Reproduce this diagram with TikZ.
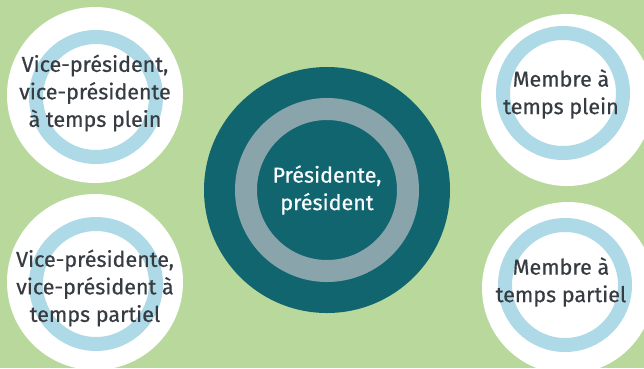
\documentclass[tikz,border=0pt]{standalone}
\usepackage{fontspec}
\setmainfont{Fira Sans}[FakeBold=0.5]
\usetikzlibrary{positioning}

\definecolor{leaf}{HTML}{B9D99C}
\definecolor{petrol}{HTML}{11656F}
\definecolor{slate}{HTML}{8AA4AC}
\definecolor{sky}{HTML}{AED9E6}
\definecolor{ink}{HTML}{373C42}

\begin{document}
\begin{tikzpicture}[x=1pt, y=-1pt,
    disc/.style={circle, fill=white, inner sep=0pt, minimum size=#1},
    ring/.style={draw=sky, line width=14pt},
    role/.style={align=center, text=ink, font=\fontsize{21.5}{27.5}\selectfont}]

    \useasboundingbox[fill=leaf] (0,0) rectangle (644,368);

    % the four seats around the chair
    \node[disc=176] (vpplein) at (95,95) {};
    \node[disc=176] (vppartiel) at (95,282) {};
    \node[disc=172] (mplein) at (567,100) {};
    \node[disc=172] (mpartiel) at (568,288) {};

    \draw[ring] ([shift={(1,2)}] vpplein.center) circle[radius=60];
    \draw[ring] ([shift={(1,2)}] vppartiel.center) circle[radius=60];
    \draw[ring] ([shift={(-4,-7)}] mplein.center) circle[radius=60];
    \draw[ring] ([shift={(-3,-3)}] mpartiel.center) circle[radius=60];

    \node[role] (vppleintxt) at (95,93) {Vice-président,\\vice-présidente\\à temps plein};
    \node[role] (vppartieltxt) at (95,288) {Vice-présidente,\\vice-président à\\temps partiel};
    \node[role] (mpleintxt) at (561,94) {Membre à\\temps plein};
    \node[role] (mpartieltxt) at (561,282) {Membre à\\temps partiel};

    % the chair in the middle
    \node[circle, fill=petrol, inner sep=0pt, minimum size=246] (chair) at (327,190) {};
    \draw[draw=slate, line width=22pt] (chair.center) circle[radius=81];
    \node[role, text=white!92!sky] (chairtxt) at (chair.center) {Présidente,\\président};

\end{tikzpicture}
\end{document}
